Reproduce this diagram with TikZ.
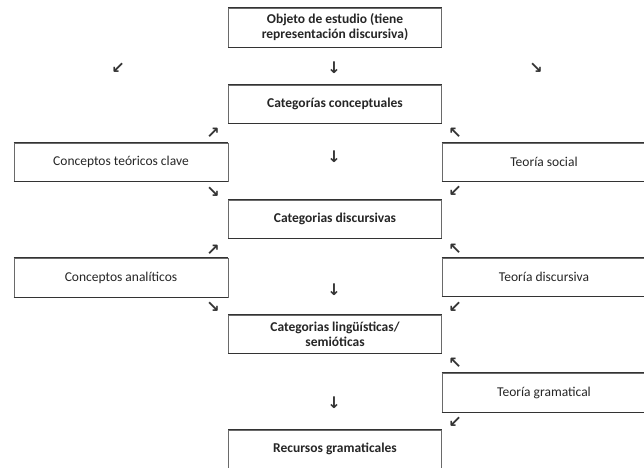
\documentclass[tikz,border=0pt]{standalone}
\usepackage{fontspec}
\setmainfont{Carlito}
\newfontfamily\arrowfont{DejaVu Sans}
\usepackage{xcolor}
\definecolor{boxline}{HTML}{6a6a6a}
\definecolor{boxedge}{HTML}{333333}

\begin{document}
\begin{tikzpicture}[x=1pt,y=-1pt,font=\fontsize{13.5}{15}\selectfont,
  catbox/.style={draw=boxline,line width=0.6pt,minimum width=213pt,minimum height=38pt,
    inner sep=0pt,align=center,font=\fontsize{13.5}{15}\selectfont\bfseries,text=black!85},
  sidebox/.style={draw=boxline,line width=0.6pt,minimum width=214pt,minimum height=38pt,
    inner sep=0pt,align=center,text=black!85},
  arr/.style={font=\arrowfont\bfseries\fontsize{16}{16}\selectfont,inner sep=0pt,text=black!80}]
  \useasboundingbox (0,0) rectangle (644,467);
  \clip (0,0) rectangle (644,467);
  \fill[white] (0,0) rectangle (644,467);
  % central column
  \node[catbox,minimum height=39pt] (obj) at (335,27.5) {Objeto de estudio (tiene\\representación discursiva)};
  \node[catbox] (conc) at (335,104) {Categorías conceptuales};
  \node[catbox] (disc) at (335,219) {Categorias discursivas};
  \node[catbox] (ling) at (335,334) {Categorias lingüísticas/\\semióticas};
  \node[catbox] (rec) at (335,449) {Recursos gramaticales};
  % left column
  \node[sidebox] (clave) at (121,162) {Conceptos teóricos clave};
  \node[sidebox,minimum height=39pt] (analit) at (121,277.5) {Conceptos analíticos};
  % right column
  \node[sidebox,minimum width=204pt] (social) at (544,162) {Teoría social};
  \node[sidebox,minimum width=204pt] (teodisc) at (544,277) {Teoría discursiva};
  \node[sidebox,minimum width=204pt,minimum height=39pt] (gram) at (544,392.5) {Teoría gramatical};
  \foreach \n in {obj,conc,disc,ling,rec,clave,analit,social,teodisc,gram}
    \draw[boxedge,line width=1pt] (\n.north west) -- (\n.north east) (\n.south west) -- (\n.south east);
  % arrow marks
  \node[arr] (a1) at (118,68) {↙};
  \node[arr] (a2) at (334,68) {↓};
  \node[arr] (a3) at (536,68) {↘};
  \node[arr] (b1) at (213,133) {↗};
  \node[arr] (b2) at (455,133) {↖};
  \node[arr] (b3) at (334,157) {↓};
  \node[arr] (b4) at (213,192) {↘};
  \node[arr] (b5) at (455,191) {↙};
  \node[arr] (c1) at (213,250) {↗};
  \node[arr] (c2) at (455,249) {↖};
  \node[arr] (c3) at (334,290) {↓};
  \node[arr] (c4) at (213,307) {↘};
  \node[arr] (c5) at (455,307) {↙};
  \node[arr] (d1) at (455,363) {↖};
  \node[arr] (d2) at (334,403) {↓};
  \node[arr] (d3) at (455,422) {↙};
\end{tikzpicture}
\end{document}
